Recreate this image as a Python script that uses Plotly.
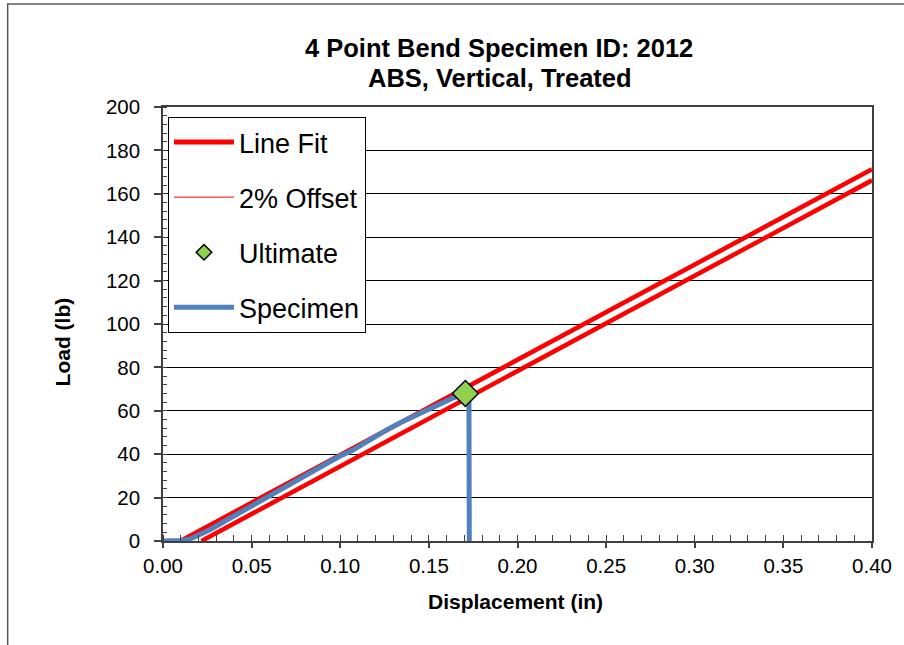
import plotly.graph_objects as go

# Specimen load-displacement record
disp_in = [0, 0.005, 0.010, 0.015, 0.020, 0.0265, 0.035, 0.045, 0.0545, 0.064, 0.073,
           0.0882, 0.0994, 0.1069, 0.1160, 0.1257, 0.135, 0.1444, 0.154, 0.163,
           0.1706, 0.1726, 0.1728]
load_lb = [0, 0, 0.2, 0.8, 2.5, 5.2, 9.2, 13.8, 18.0, 22.3, 26.5,
           34.1, 38.9, 41.8, 46.5, 51.0, 55.0, 58.7, 62.3, 65.7,
           68.0, 67.5, 0]

# Linear fit of the elastic region and its 2% offset line (end points)
fit_x = [0.0098, 0.40]
fit_y = [0.0, 171.3]
offset_x = [0.0217, 0.40]
offset_y = [0.0, 166.2]

# Ultimate load point
ult_x = [0.1706]
ult_y = [68.0]

FONT = "Liberation Sans, Arial, sans-serif"
RED = "#FF0000"
BLUE = "#4F81BD"
GREEN = "#92D050"

fig = go.Figure()

# plotted series (keys are added separately below)
fig.add_trace(go.Scatter(x=offset_x, y=offset_y, mode="lines", name="2% Offset",
                         line=dict(color=RED, width=4.5), showlegend=False))
fig.add_trace(go.Scatter(x=fit_x, y=fit_y, mode="lines", name="Line Fit",
                         line=dict(color=RED, width=4.5), showlegend=False))
fig.add_trace(go.Scatter(x=disp_in, y=load_lb, mode="lines", name="Specimen",
                         line=dict(color=BLUE, width=5), showlegend=False))
fig.add_trace(go.Scatter(x=ult_x, y=ult_y, mode="markers", name="Ultimate",
                         marker=dict(symbol="diamond", size=20, color=GREEN,
                                     line=dict(color="black", width=1.5)),
                         showlegend=False))

# legend keys
fig.add_trace(go.Scatter(x=[None], y=[None], mode="lines", name="Line Fit",
                         line=dict(color=RED, width=5), legendgroup="a"))
fig.add_trace(go.Scatter(x=[None], y=[None], mode="lines", name="2% Offset",
                         line=dict(color=RED, width=1), legendgroup="b"))
fig.add_trace(go.Scatter(x=[None], y=[None], mode="markers", name="Ultimate",
                         marker=dict(symbol="diamond", size=12, color=GREEN,
                                     line=dict(color="black", width=1.5)),
                         legendgroup="c"))
fig.add_trace(go.Scatter(x=[None], y=[None], mode="lines", name="Specimen",
                         line=dict(color=BLUE, width=5), legendgroup="d"))

W, H = 904, 645
L, R, T, B = 163, 875, 107, 541


def px_x(px):
    return (px - L) / (R - L)


def px_y(py):
    return (B - py) / (B - T)


fig.update_layout(
    width=W, height=H,
    margin=dict(l=L, r=W - R, t=T, b=H - B),
    paper_bgcolor="white", plot_bgcolor="white",
    font=dict(family=FONT, color="black", size=20),
    showlegend=True,
    legend=dict(
        x=px_x(168), y=px_y(117), xanchor="left", yanchor="top",
        bgcolor="white", bordercolor="black", borderwidth=1,
        font=dict(family=FONT, size=27, color="black"),
        traceorder="grouped", tracegroupgap=17,
        itemwidth=60, entrywidth=197,
    ),
    xaxis=dict(
        range=[0, 0.40], dtick=0.05, tick0=0, tickformat=".2f",
        ticks="outside", ticklen=5, tickcolor="#404040", tickwidth=1.5,
        ticklabelstandoff=1,
        showline=True, linecolor="#404040", linewidth=1.5, mirror=True,
        showgrid=False, zeroline=False,
        tickfont=dict(family=FONT, size=20.5, color="black"),
        minor=dict(dtick=0.01, ticks="inside", ticklen=6, tickcolor="#404040",
                   tickwidth=1, showgrid=False),
    ),
    yaxis=dict(
        range=[0, 200], dtick=20, tick0=0,
        ticks="outside", ticklen=7, tickcolor="#404040", tickwidth=1.5,
        ticklabelstandoff=10,
        showline=True, linecolor="#404040", linewidth=1.5, mirror=True,
        showgrid=True, gridcolor="black", gridwidth=1, zeroline=False,
        tickfont=dict(family=FONT, size=20.5, color="black"),
        minor=dict(dtick=4, ticks="inside", ticklen=4, tickcolor="#404040",
                   tickwidth=1, showgrid=False),
    ),
    shapes=[
        # chart area frame (left and top edges visible)
        dict(type="rect", xref="paper", yref="paper",
             x0=px_x(7), x1=px_x(1100), y0=px_y(800), y1=px_y(4),
             line=dict(color="#595959", width=1.5), fillcolor="rgba(0,0,0,0)",
             layer="below"),
    ],
    annotations=[
        dict(text="<b>4 Point Bend Specimen ID: 2012</b>", xref="paper", yref="paper",
             x=px_x(500), y=px_y(47.5), xanchor="center", yanchor="middle",
             height=29, valign="middle",
             showarrow=False, font=dict(family=FONT, size=25.5, color="black")),
        dict(text="<b>ABS, Vertical, Treated</b>", xref="paper", yref="paper",
             x=px_x(501), y=px_y(77.5), xanchor="center", yanchor="middle",
             height=29, valign="middle",
             showarrow=False, font=dict(family=FONT, size=25.5, color="black")),
        dict(text="<b>Displacement (in)</b>", xref="paper", yref="paper",
             x=px_x(517), y=px_y(601), xanchor="center", yanchor="middle",
             showarrow=False, font=dict(family=FONT, size=21, color="black")),
        dict(text="<b>Load (lb)</b>", xref="paper", yref="paper",
             x=px_x(62), y=px_y(342), xanchor="center", yanchor="middle",
             textangle=-90,
             showarrow=False, font=dict(family=FONT, size=21, color="black")),
    ],
)

fig.write_html("out.html")
